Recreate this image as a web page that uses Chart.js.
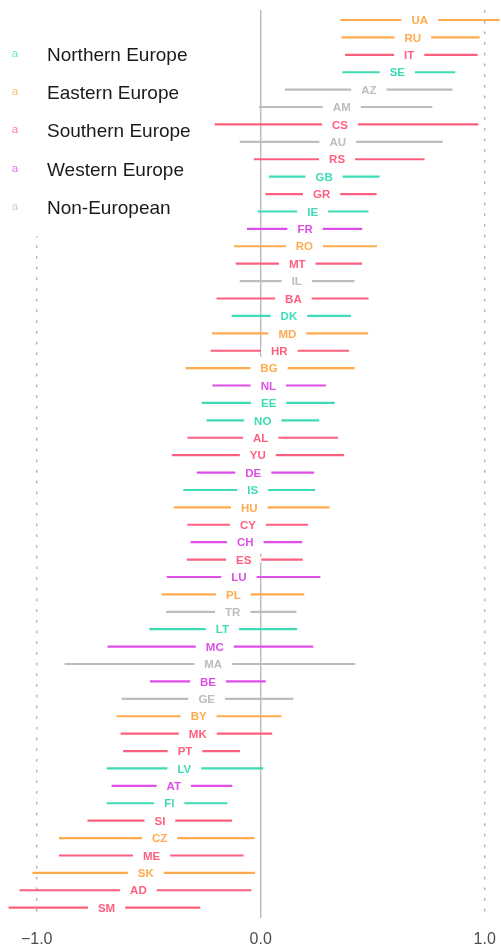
<!DOCTYPE html>
<html>
<head>
<meta charset="utf-8">
<script src="https://cdn.jsdelivr.net/npm/chart.js@4/dist/chart.umd.min.js"></script>
<style>
html,body{margin:0;padding:0;background:#fff;}
#wrap{position:relative;width:501px;height:947px;}
</style>
</head>
<body>
<div id="wrap"><canvas id="c" width="501" height="947"></canvas></div>
<script>
// ---- data ----
const countries = ['UA','RU','IT','SE','AZ','AM','CS','AU','RS','GB','GR','IE','FR','RO','MT','IL','BA','DK','MD','HR','BG','NL','EE','NO','AL','YU','DE','IS','HU','CY','CH','ES','LU','PL','TR','LT','MC','MA','BE','GE','BY','MK','PT','LV','AT','FI','SI','CZ','ME','SK','AD','SM'];
const regions = ['E','E','S','N','X','X','S','X','S','N','S','N','W','E','S','X','S','N','E','S','E','W','N','N','S','S','W','N','E','S','W','S','W','E','X','N','W','X','W','X','E','S','S','N','W','N','S','E','S','E','S','S'];
const estimate = [0.710,0.679,0.663,0.610,0.483,0.362,0.354,0.344,0.341,0.283,0.272,0.232,0.198,0.195,0.163,0.161,0.146,0.126,0.119,0.083,0.037,0.034,0.036,0.009,0.000,-0.013,-0.033,-0.036,-0.051,-0.057,-0.069,-0.076,-0.097,-0.122,-0.125,-0.171,-0.205,-0.212,-0.235,-0.241,-0.277,-0.281,-0.338,-0.341,-0.388,-0.408,-0.450,-0.451,-0.487,-0.513,-0.546,-0.688];
const lower = [0.357,0.362,0.378,0.366,0.110,-0.006,-0.204,-0.092,-0.029,0.038,0.022,-0.012,-0.060,-0.118,-0.110,-0.092,-0.196,-0.128,-0.216,-0.222,-0.333,-0.214,-0.262,-0.240,-0.326,-0.395,-0.284,-0.344,-0.387,-0.326,-0.311,-0.328,-0.418,-0.441,-0.421,-0.496,-0.682,-0.874,-0.493,-0.619,-0.642,-0.624,-0.613,-0.686,-0.664,-0.686,-0.772,-0.899,-0.899,-1.018,-1.075,-1.124];
const upper = [1.065,0.976,0.967,0.867,0.855,0.765,0.970,0.811,0.730,0.529,0.516,0.480,0.452,0.518,0.451,0.417,0.480,0.402,0.478,0.393,0.418,0.290,0.329,0.260,0.344,0.371,0.237,0.242,0.306,0.210,0.184,0.186,0.265,0.193,0.158,0.161,0.233,0.421,0.021,0.144,0.092,0.050,-0.094,0.010,-0.128,-0.150,-0.129,-0.029,-0.078,-0.027,-0.043,-0.271];
const regionKeys = ['N','E','S','W','X'];
const regionNames = ['Northern Europe','Eastern Europe','Southern Europe','Western Europe','Non-European'];
const tickValues = [-1, 0, 1];
const tickLabels = ['\u22121.0', '0.0', '1.0'];

// ---- styles ----
const regionColors = {N:'#3edcb6', E:'#ffab4d', S:'#ff5f7e', W:'#dd4fe6', X:'#bdbdbd'};
const FONT = "'Liberation Sans', Arial, Helvetica, sans-serif";

const datasets = regionKeys.map((k, ri) => ({
  label: regionNames[ri],
  data: countries.map((c, i) => regions[i] === k ? [lower[i], upper[i]] : null),
  backgroundColor: regionColors[k],
  borderWidth: 0,
  grouped: false,
  barThickness: 1.5
}));

const backdrop = {
  id: 'backdrop',
  beforeDatasetsDraw(chart) {
    const ctx = chart.ctx, xs = chart.scales.x, ys = chart.scales.y, a = chart.chartArea;
    const top = a.top - 1.3, bot = a.bottom + 1.6;
    ctx.save();
    ctx.strokeStyle = '#b4b4b4';
    ctx.lineWidth = 1.4;
    ctx.setLineDash([2.7, 8]);
    [-1, 1].forEach(v => {
      const x = xs.getPixelForValue(v);
      ctx.beginPath(); ctx.moveTo(x, top); ctx.lineTo(x, bot); ctx.stroke();
    });
    ctx.setLineDash([]);
    ctx.strokeStyle = '#bdbdbd';
    ctx.lineWidth = 1.5;
    const x0 = xs.getPixelForValue(0);
    const g1 = ys.getPixelForValue(19) + 6, g2 = ys.getPixelForValue(31) - 6;
    ctx.beginPath(); ctx.moveTo(x0, top); ctx.lineTo(x0, g1); ctx.stroke();
    ctx.beginPath(); ctx.moveTo(x0, g2); ctx.lineTo(x0, bot); ctx.stroke();
    ctx.fillStyle = '#ffffff';
    ctx.fillRect(0, 0, 205, 236);
    chart.data.datasets.forEach((ds, i) => {
      const base = 60.6 + i * 38.3;
      ctx.globalAlpha = 0.8;
      ctx.fillStyle = ds.backgroundColor;
      ctx.font = '11.5px ' + FONT;
      ctx.textAlign = 'center';
      ctx.textBaseline = 'alphabetic';
      ctx.fillText('a', 15, base - 4);
      ctx.globalAlpha = 1;
      ctx.fillStyle = '#1a1a1a';
      ctx.font = '19px ' + FONT;
      ctx.textAlign = 'left';
      ctx.fillText(ds.label, 47, base);
    });
    ctx.restore();
  }
};

const labelsPlugin = {
  id: 'codeLabels',
  afterDatasetsDraw(chart) {
    const ctx = chart.ctx, xs = chart.scales.x, ys = chart.scales.y;
    ctx.save();
    ctx.font = 'bold 11.5px ' + FONT;
    ctx.textAlign = 'center';
    ctx.textBaseline = 'alphabetic';
    countries.forEach((c, i) => {
      const x = xs.getPixelForValue(estimate[i]);
      const y = ys.getPixelForValue(i);
      const w = ctx.measureText(c).width;
      ctx.fillStyle = '#ffffff';
      ctx.fillRect(x - w / 2 - 10, y - 3, w + 20, 6);
      ctx.fillStyle = regionColors[regions[i]];
      ctx.fillText(c, x, y + 4.2);
    });
    ctx.restore();
  }
};

new Chart(document.getElementById('c'), {
  type: 'bar',
  data: { labels: countries, datasets },
  plugins: [backdrop, labelsPlugin],
  options: {
    indexAxis: 'y',
    responsive: false,
    maintainAspectRatio: false,
    animation: false,
    layout: { padding: { top: 11.3, left: 0, right: 0, bottom: 0 } },
    plugins: { legend: { display: false }, tooltip: { enabled: false } },
    scales: {
      x: {
        type: 'linear',
        min: -1.1638,
        max: 1.0728,
        grid: { display: false },
        border: { display: false },
        afterBuildTicks: s => { s.ticks = tickValues.map(v => ({ value: v })); },
        afterFit: s => { s.height = 30.6; s.paddingLeft = 0; s.paddingRight = 0; },
        ticks: {
          padding: 6,
          maxRotation: 0,
          autoSkip: false,
          color: '#4d4d4d',
          font: { size: 16, family: FONT },
          callback: (v, i) => tickLabels[i]
        }
      },
      y: {
        type: 'category',
        display: false,
        offset: true,
        grid: { display: false }
      }
    }
  }
});
</script>
</body>
</html>
